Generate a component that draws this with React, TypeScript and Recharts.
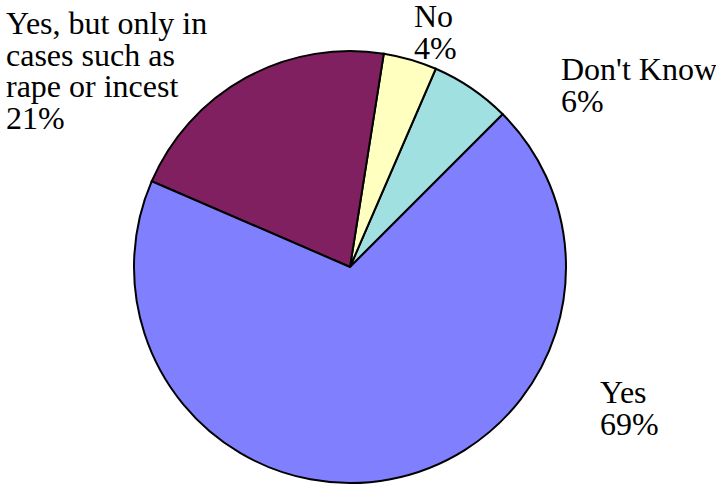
import { PieChart, Pie, Cell } from "recharts"

// slices listed counter-clockwise starting at the 45° boundary
const names = ["Don't Know", "No", "Yes, but only in\ncases such as\nrape or incest", "Yes"]
const values = [6, 4, 21, 69]
const colors = ["#A0E0E0", "#FFFFC0", "#802060", "#8080FF"]

const data = names.map((name, i) => ({ name, value: values[i] }))

// where each label block starts (left x, first baseline y)
const labelAt: Record<string, [number, number]> = {
  "Don't Know": [561, 80],
  "No": [414, 27],
  "Yes, but only in\ncases such as\nrape or incest": [6, 34],
  "Yes": [600, 403]
}

const FONT = "Liberation Serif"
const LINE = 31.7

function renderLabel(props: any) {
  const { name, value } = props
  const [x, y] = labelAt[name]
  const lines = [...name.split("\n"), `${value}%`]
  return (
    <text x={x} y={y} fill="#000" textAnchor="start" style={{ fontFamily: FONT, fontSize: 32 }}>
      {lines.map((l: string, i: number) => (
        <tspan key={i} x={x} y={y + i * LINE}>
          {l}
        </tspan>
      ))}
    </text>
  )
}

export default function App() {
  return (
    <div style={{ position: "absolute", left: 0, top: 0, background: "#fff" }}>
      <PieChart width={716} height={485} margin={{ top: 0, right: 0, bottom: 0, left: 0 }}>
        <Pie
          data={data}
          dataKey="value"
          nameKey="name"
          cx={350}
          cy={267}
          outerRadius={216}
          startAngle={45}
          endAngle={405}
          stroke="#000"
          strokeWidth={2}
          label={renderLabel}
          labelLine={false}
          isAnimationActive={false}
        >
          {data.map((d, i) => (
            <Cell key={d.name} fill={colors[i]} />
          ))}
        </Pie>
      </PieChart>
    </div>
  )
}
